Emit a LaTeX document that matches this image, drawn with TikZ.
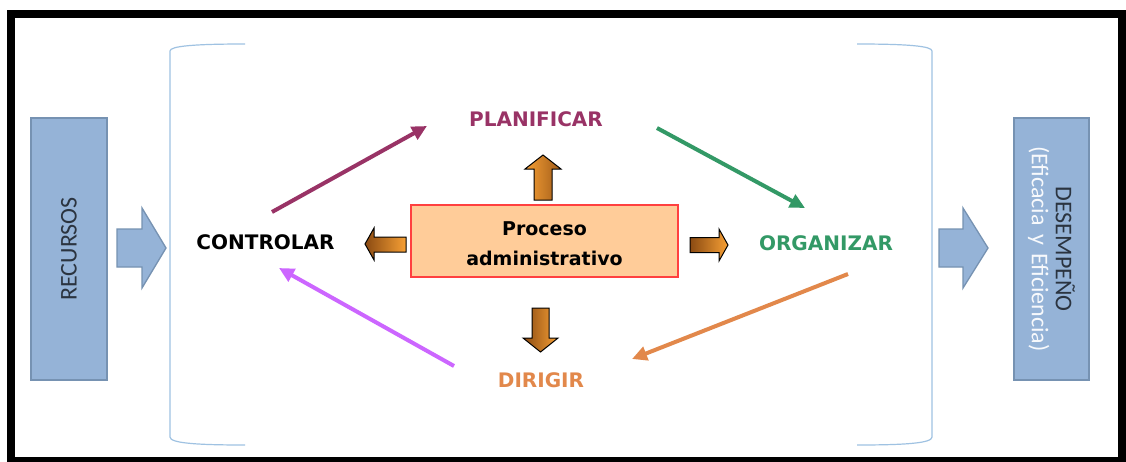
\documentclass[tikz,border=0pt]{standalone}
\usepackage{fontspec}
\setmainfont{DejaVu Sans}
\newfontfamily\boxfont{Carlito}
\usetikzlibrary{arrows.meta}
\definecolor{purp}{HTML}{993366}
\definecolor{grn}{HTML}{339966}
\definecolor{orng}{HTML}{E2884B}
\definecolor{viol}{HTML}{CC66FF}
\definecolor{peach}{HTML}{FFCC99}
\definecolor{boxred}{HTML}{FF4040}
\definecolor{bluefill}{HTML}{95B3D7}
\definecolor{blueedge}{HTML}{7692B2}
\definecolor{brack}{HTML}{9FC2E2}
\definecolor{brdark}{HTML}{8A4A12}
\definecolor{brlight}{HTML}{F7A035}
\definecolor{txtdark}{HTML}{2B3440}
\tikzset{
  lbl/.style={inner sep=0pt, text depth=0pt, font=\fontsize{20}{24}\selectfont\bfseries},
  bluebox/.style={draw=blueedge, line width=1.3pt, fill=bluefill, inner sep=0pt},
  bluearrow/.style={draw=blueedge, line width=1.3pt, fill=bluefill, line join=miter},
  smallarrow/.style={draw=black, line width=1pt, line join=miter},
  conn/.style={line width=4pt, -{Triangle[length=15pt,width=14pt]}},
  bracketline/.style={draw=brack, line width=1.2pt}
}
\begin{document}
\begin{tikzpicture}[x=1pt,y=-1pt]
\useasboundingbox (0,0) rectangle (1126,461);
\fill[white] (0,0) rectangle (1126,461);
\draw[line width=8pt] (11,13.5) rectangle (1122,461);

% brackets
\draw[bracketline] (245,44) .. controls (195,44) and (170,46) .. (170,51) -- (170,437) .. controls (170,443) and (195,445) .. (245,445);
\draw[bracketline] (857,44) .. controls (907,44) and (932,46) .. (932,51) -- (932,437) .. controls (932,443) and (907,445) .. (857,445);

% side boxes
\node[bluebox, rotate=90, minimum width=262pt, minimum height=76pt,
      font=\boxfont\fontsize{24}{24}\selectfont, text=txtdark] (recursos) at (69,249) {RECURSOS};
\node[bluebox, rotate=-90, minimum width=262pt, minimum height=75pt, align=center,
      font=\boxfont\fontsize{24}{24}\selectfont] (desempeno) at (1051.5,249)
      {\textcolor{txtdark}{DESEMPEÑO}\\\textcolor{white!92!bluefill}{(Eficacia\hspace{3pt} y\hspace{3pt} Eficiencia)}};

% blue block arrows
\draw[bluearrow] (117,229) -- (142,229) -- (142,208) -- (166,248) -- (142,288) -- (142,267) -- (117,267) -- cycle;
\draw[bluearrow] (939,229) -- (963,229) -- (963,208) -- (988,248) -- (963,288) -- (963,267) -- (939,267) -- cycle;

% central box
\node[draw=boxred, line width=1.6pt, fill=peach, minimum width=267pt, minimum height=72pt, inner sep=0pt] (proc) at (544.5,241) {};
\node[inner sep=0pt, text depth=0pt, align=center, font=\fontsize{19}{30}\selectfont\bfseries] (proctext) at (544.5,244) {Proceso\\administrativo};

% small gradient arrows
\draw[smallarrow, left color=brlight, right color=brdark!80!brlight] (534,200) -- (534,169) -- (525,169) -- (543,155) -- (561,169) -- (552,169) -- (552,200) -- cycle;
\draw[smallarrow, left color=brdark, right color=brlight] (532,308) -- (549,308) -- (549,338) -- (558,338) -- (540.5,352) -- (523,338) -- (532,338) -- cycle;
\draw[smallarrow, left color=brdark, right color=brlight] (406,237) -- (374,237) -- (374,228) -- (365,244) -- (374,260) -- (374,252) -- (406,252) -- cycle;
\draw[smallarrow, left color=brdark, right color=brlight] (690,237.5) -- (719,237.5) -- (719,229) -- (728,245) -- (719,261) -- (719,252.5) -- (690,252.5) -- cycle;

% labels
\node[lbl, text=purp] (planificar) at (536,119) {PLANIFICAR};
\node[lbl, text=grn] (organizar) at (826,243) {ORGANIZAR};
\node[lbl, text=orng] (dirigir) at (541,380) {DIRIGIR};
\node[lbl, text=black] (controlar) at (265.5,242) {CONTROLAR};

% connectors
\coordinate (pS) at (272,212); \coordinate (pE) at (427,126);
\coordinate (gS) at (657,128); \coordinate (gE) at (805,208);
\coordinate (oS) at (848,274); \coordinate (oE) at (632,359);
\coordinate (vS) at (454,366); \coordinate (vE) at (279,268);
\draw[conn, purp] (pS) -- (pE);
\draw[conn, grn] (gS) -- (gE);
\draw[conn, orng] (oS) -- (oE);
\draw[conn, viol] (vS) -- (vE);
\end{tikzpicture}
\end{document}
